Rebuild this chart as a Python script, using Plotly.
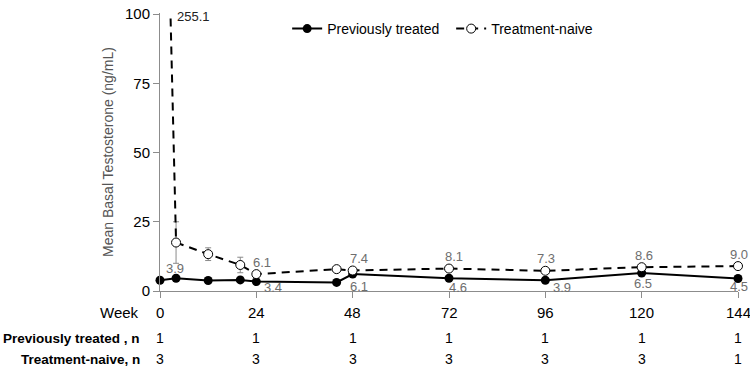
import plotly.graph_objects as go

weeks = [0, 4, 12, 20, 24, 44, 48, 72, 96, 120, 144]
prev_treated = [3.9, 4.6, 3.8, 4.0, 3.4, 3.1, 6.1, 4.6, 3.9, 6.5, 4.5]
naive = [255.1, 17.5, 13.3, 9.4, 6.1, 7.9, 7.4, 8.1, 7.3, 8.6, 9.0]

err_weeks = [4, 12, 20]
err_vals = [17.5, 13.3, 9.4]
err_sizes = [7.5, 2.3, 2.8]

# labelled points: (week, value, text)
lab_naive = [(0, 255.1, "255.1"), (24, 6.1, "6.1"), (48, 7.4, "7.4"), (72, 8.1, "8.1"),
             (96, 7.3, "7.3"), (120, 8.6, "8.6"), (144, 9.0, "9.0")]
lab_prev = [(0, 3.9, "3.9"), (24, 3.4, "3.4"), (48, 6.1, "6.1"), (72, 4.6, "4.6"),
            (96, 3.9, "3.9"), (120, 6.5, "6.5"), (144, 4.5, "4.5")]

tick_weeks = [0, 24, 48, 72, 96, 120, 144]
y_ticks = [0, 25, 50, 75, 100]
n_prev = [1, 1, 1, 1, 1, 1, 1]
n_naive = [3, 3, 3, 3, 3, 3, 1]

YMAX = 100
fig = go.Figure()

fig.add_trace(go.Scatter(
    x=err_weeks, y=err_vals, mode="markers", showlegend=False,
    marker=dict(size=1, color="rgba(0,0,0,0)"),
    error_y=dict(type="data", array=err_sizes, color="#8a8a8a", thickness=1, width=3),
    hoverinfo="skip"))

fig.add_trace(go.Scatter(
    x=weeks, y=prev_treated, name="Previously treated", mode="lines+markers",
    line=dict(color="black", width=2),
    marker=dict(symbol="circle", size=9, color="black"), cliponaxis=False))

fig.add_trace(go.Scatter(
    x=weeks, y=naive, name="Treatment-naive", mode="lines+markers",
    line=dict(color="black", width=2, dash="8px,6px"),
    marker=dict(symbol="circle", size=9, color="white", line=dict(color="black", width=1)),
    cliponaxis=False))

grey = "#6e6e6e"
ann = []
naive_shift = {0: (33, -2), 24: (6, 12), 48: (6, 12), 72: (5, 12), 96: (1, 12), 120: (2, 12), 144: (1, 12)}
for w, v, t in lab_naive:
    dx, dy = naive_shift[w]
    ann.append(dict(x=w, y=min(v, YMAX), text=t, showarrow=False, xshift=dx, yshift=dy,
                    yanchor="middle",
                    font=dict(size=13, color=grey if v <= YMAX else "#222", family="Liberation Sans")))
prev_shift = {0: (15, 12), 24: (17, -6), 48: (6, -12), 72: (9, -9), 96: (17, -7), 120: (1, -10), 144: (1, -8)}
for w, v, t in lab_prev:
    dx, dy = prev_shift[w]
    ann.append(dict(x=w, y=v, text=t, showarrow=False, xshift=dx, yshift=dy, yanchor="middle",
                    font=dict(size=13, color=grey, family="Liberation Sans")))

row_font = dict(size=15, color="black", family="Liberation Sans")
n_font = dict(size=14, color="black", family="Liberation Sans")
lab_font = dict(size=13.5, color="black", family="Liberation Sans")
ROW_Y = {"week": -21, "prev": -47, "naive": -68}
for w in tick_weeks:
    ann.append(dict(x=w, y=0, yref="paper", text=str(w), showarrow=False, yanchor="middle",
                    yshift=ROW_Y["week"], font=row_font))
for w, n in zip(tick_weeks, n_prev):
    ann.append(dict(x=w, y=0, yref="paper", text=str(n), showarrow=False, yanchor="middle",
                    yshift=ROW_Y["prev"], font=n_font))
for w, n in zip(tick_weeks, n_naive):
    ann.append(dict(x=w, y=0, yref="paper", text=str(n), showarrow=False, yanchor="middle",
                    yshift=ROW_Y["naive"], font=n_font))

PX_L, PX_W = 160, 578
def px_to_paper(px):
    return (px - PX_L) / PX_W

ann.append(dict(x=px_to_paper(141), xref="paper", xanchor="right", y=0, yref="paper", text="Week",
                showarrow=False, yanchor="middle", yshift=ROW_Y["week"], font=row_font))
ann.append(dict(x=px_to_paper(142), xref="paper", xanchor="right", y=0, yref="paper",
                text="<b>Previously treated , n</b>", showarrow=False, yanchor="middle",
                yshift=ROW_Y["prev"], font=lab_font))
ann.append(dict(x=px_to_paper(142), xref="paper", xanchor="right", y=0, yref="paper",
                text="<b>Treatment-naive, n</b>", showarrow=False, yanchor="middle",
                yshift=ROW_Y["naive"], font=lab_font))

fig.update_layout(
    width=750, height=368,
    margin=dict(l=PX_L, r=750 - PX_L - PX_W, t=5, b=77),
    plot_bgcolor="white", paper_bgcolor="white",
    font=dict(family="Liberation Sans", color="black"),
    xaxis=dict(range=[0, 144], showgrid=False, zeroline=False, showline=True,
               linecolor="#8c8c8c", linewidth=1, ticks="outside", ticklen=6, tickcolor="#8c8c8c",
               tickvals=tick_weeks, showticklabels=False),
    yaxis=dict(range=[0, YMAX + 0.4], showgrid=False, zeroline=False, showline=True,
               linecolor="#8c8c8c", linewidth=1, ticks="outside", ticklen=6, tickcolor="#8c8c8c",
               tickvals=y_ticks, tickfont=dict(size=15, color="black"), ticklabeloverflow="allow",
               title=dict(text="Mean Basal Testosterone (ng/mL)", standoff=8,
                          font=dict(size=14, color="#555555"))),
    legend=dict(orientation="h", x=0.22, xanchor="left", y=1.0, yanchor="top",
                font=dict(size=14, color="black"), entrywidth=119, entrywidthmode="pixels",
                bgcolor="rgba(0,0,0,0)"),
    annotations=ann,
)

fig.write_html("out.html")
